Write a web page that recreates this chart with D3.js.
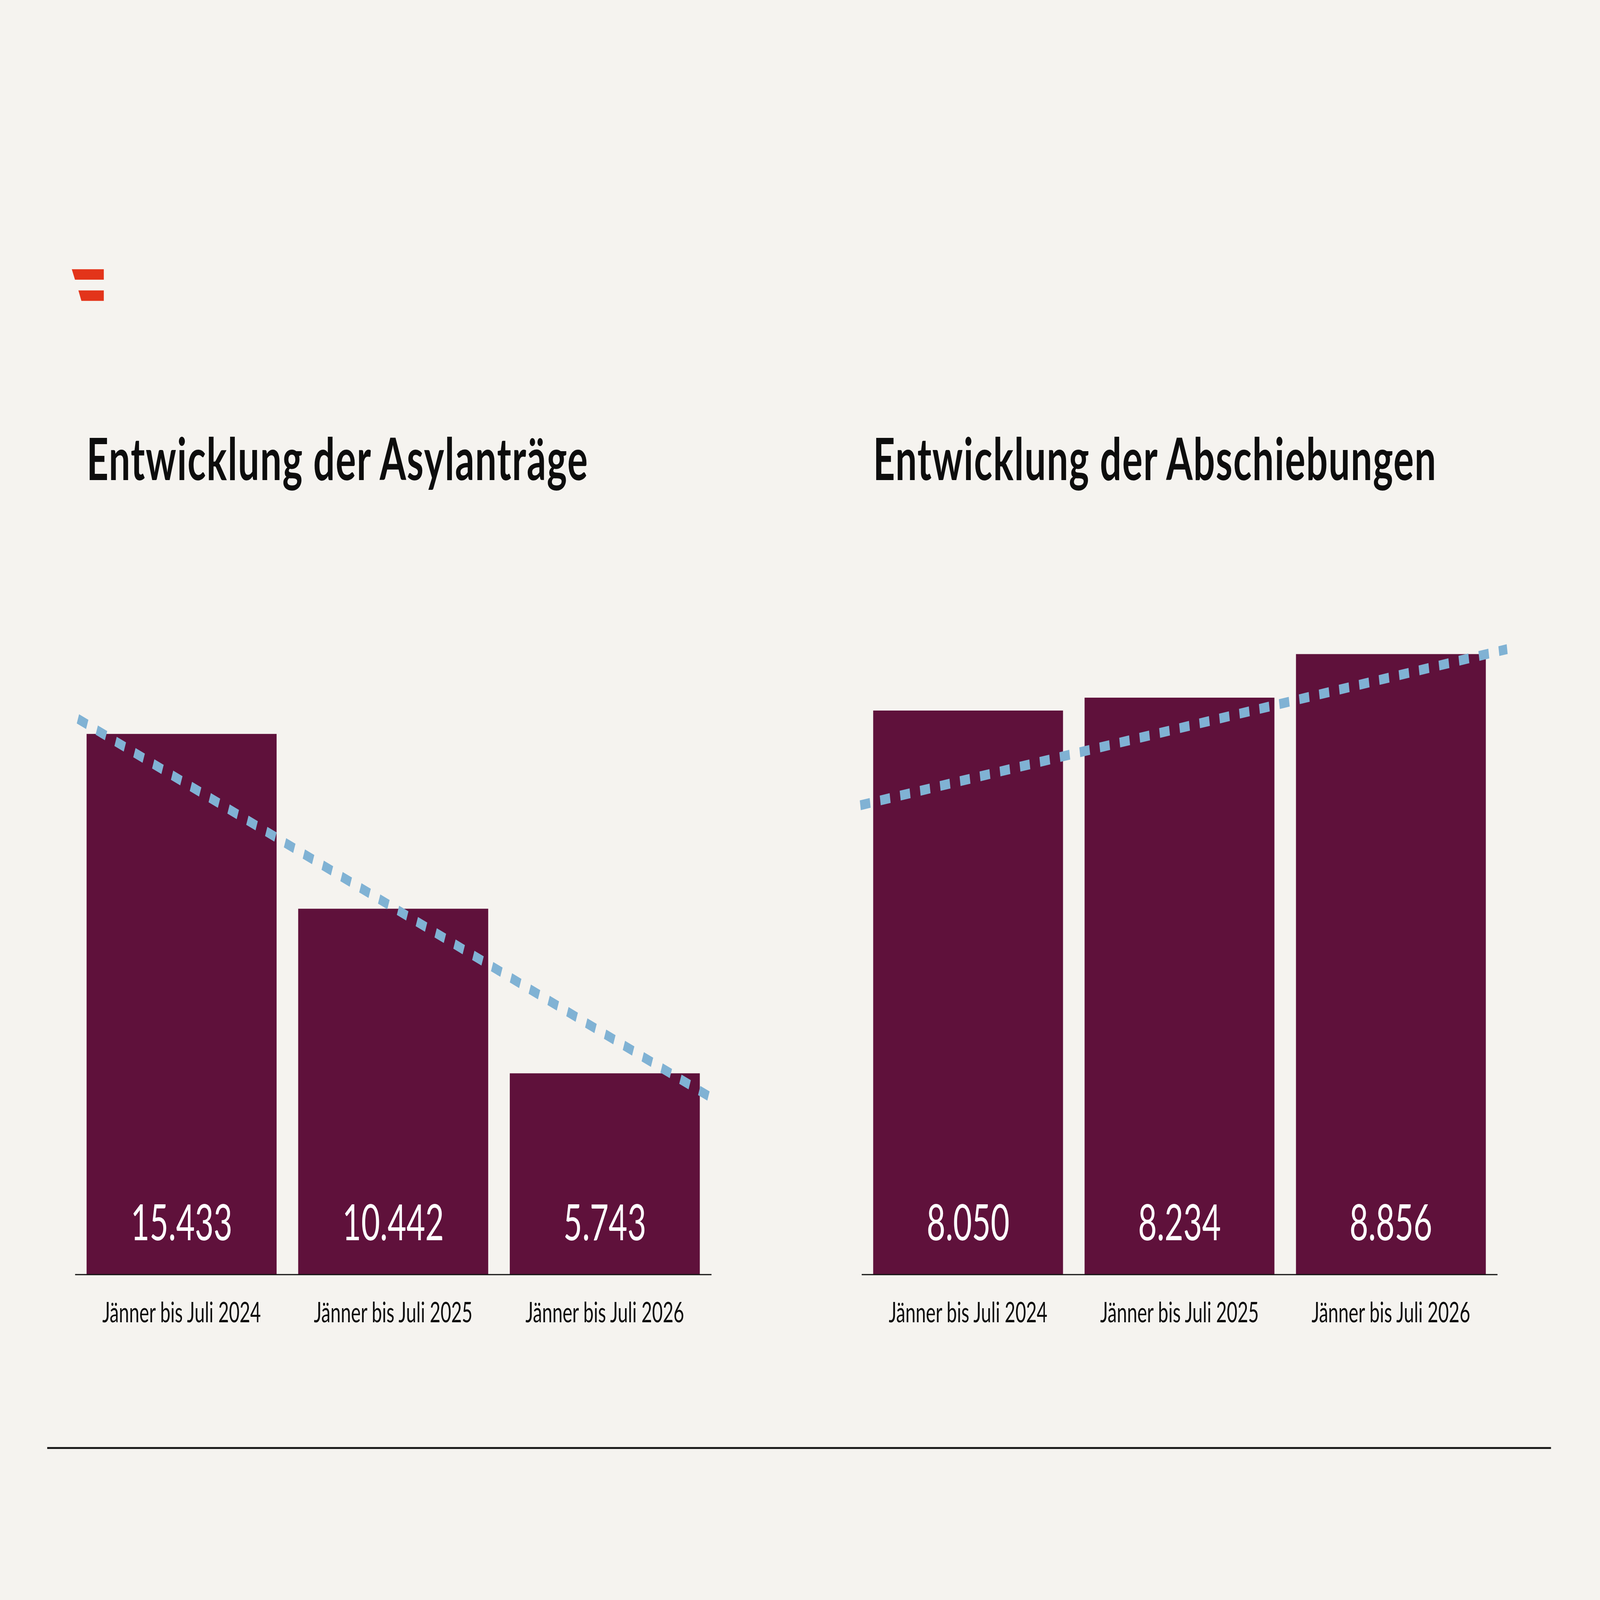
<!DOCTYPE html>
<html>
<head>
<meta charset="utf-8">
<script src="https://cdn.jsdelivr.net/npm/d3@7"></script>
<style>
  html, body { margin: 0; padding: 0; width: 100%; height: 100%; overflow: hidden; background: #f5f3ef; }
  svg { display: block; width: 100vw; height: 100vh; }
</style>
</head>
<body>
<svg id="chart" viewBox="0 0 8000 5200" preserveAspectRatio="none"></svg>
<script>
// data
var categories = ["Jänner bis Juli 2024", "Jänner bis Juli 2025", "Jänner bis Juli 2026"];
var asylValues = [15433, 10442, 5743];
var abschiebungValues = [8050, 8234, 8856];
// dashed trend line: value at start / end, position in category steps (0 = first bar centre)
var asylTrendValues = [15863, 5094];
var asylTrendPos = [-0.49, 2.49];
var abschiebungTrendValues = [6698, 8927];
var abschiebungTrendPos = [-0.51, 2.55];
var titles = ["Entwicklung der Asylanträge", "Entwicklung der Abschiebungen"];

var svg = d3.select("#chart");
svg.append("rect")
    .attr("width", 8000)
    .attr("height", 5200)
    .attr("fill", "#f5f3ef");

// logo
var logo = svg.append("g").attr("fill", "#e3341a");
logo.append("path").attr("d", "M359,875 L519,875 L519,909 L375,909 Z");
logo.append("path").attr("d", "M392,944 L519,944 L519,978 L407,978 Z");

var baseline = 4142,
    plotTop = 2093;

var createchart = function (opts) {
    var data = opts.values.map(function (v, i) {
        return { cat: categories[i], value: v };
    });

    var x = d3.scaleBand()
        .domain(categories)
        .range(opts.xrange)
        .paddingInner(0.102)
        .paddingOuter(0.0548);

    var y = d3.scaleLinear()
        .domain([0, opts.ymax])
        .range([baseline, plotTop]);

    var g = svg.append("g");

    // title
    g.append("text")
        .attr("x", x(categories[0]))
        .attr("y", 1560)
        .attr("font-family", "Lato, 'Open Sans', sans-serif")
        .attr("font-weight", 700)
        .attr("font-size", 190)
        .attr("letter-spacing", 4)
        .attr("fill", "#0d0d0d")
        .text(opts.title);

    // bars
    g.selectAll(null)
        .data(data)
        .enter()
        .append("rect")
        .attr("x", function (d) { return x(d.cat); })
        .attr("y", function (d) { return y(d.value); })
        .attr("width", x.bandwidth())
        .attr("height", function (d) { return baseline - y(d.value); })
        .attr("fill", "#5f113b");

    // value labels
    g.selectAll(null)
        .data(data)
        .enter()
        .append("text")
        .attr("x", function (d) { return x(d.cat) + x.bandwidth() / 2; })
        .attr("y", baseline - 111)
        .attr("text-anchor", "middle")
        .attr("font-family", "Lato, 'Open Sans', sans-serif")
        .attr("font-size", 162)
        .attr("fill", "#ffffff")
        .text(function (d) { return d3.format(",")(d.value).replace(/,/g, "."); });

    // axis
    var axis = g.append("g")
        .attr("transform", "translate(0," + baseline + ")")
        .call(d3.axisBottom(x).tickSize(0).tickSizeOuter(0));
    axis.select(".domain")
        .attr("stroke", "#111")
        .attr("stroke-width", 4);
    axis.selectAll("text")
        .attr("y", 156)
        .attr("dy", null)
        .attr("font-family", "Lato, 'Open Sans', sans-serif")
        .attr("font-size", 92)
        .attr("fill", "#0d0d0d");

    // trend line
    var step = x.step();
    var c0 = x(categories[0]) + x.bandwidth() / 2;
    var tx = d3.scaleLinear().domain([0, 1]).range([c0, c0 + step]);
    var trend = opts.trendPos.map(function (p, i) {
        return [p, opts.trendValues[i]];
    });
    g.append("path")
        .datum(trend)
        .attr("d", d3.line()
            .x(function (d) { return tx(d[0]); })
            .y(function (d) { return y(d[1]); }))
        .attr("fill", "none")
        .attr("stroke", "#80b2d4")
        .attr("stroke-width", 32)
        .attr("stroke-dasharray", "50,51");
};

createchart({
    title: titles[0],
    values: asylValues,
    ymax: 18000,
    xrange: [375, 3557],
    trendValues: asylTrendValues,
    trendPos: asylTrendPos
});

createchart({
    title: titles[1],
    values: abschiebungValues,
    ymax: 9000,
    xrange: [4308, 7487],
    trendValues: abschiebungTrendValues,
    trendPos: abschiebungTrendPos
});

// bottom rule
svg.append("line")
    .attr("x1", 236)
    .attr("x2", 7755)
    .attr("y1", 4706)
    .attr("y2", 4706)
    .attr("stroke", "#111")
    .attr("stroke-width", 6);
</script>
</body>
</html>
